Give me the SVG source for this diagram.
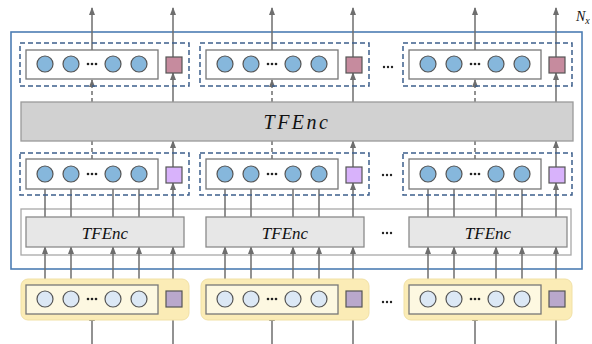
<svg xmlns="http://www.w3.org/2000/svg" width="592" height="344" viewBox="0 0 592 344">
<style>
.dash{fill:none;stroke:#3d5f8c;stroke-width:1.5;stroke-dasharray:5,3}
.inner{fill:#fff;stroke:#777;stroke-width:1.3}
.c1{fill:#86b7dc;stroke:#555;stroke-width:1.2}
.c2{fill:#dce8f5;stroke:#555;stroke-width:1.2}
.dot{fill:#222}
.sqp{fill:#c68b9e;stroke:#555;stroke-width:1.2}
.sqv{fill:#d8b2fb;stroke:#555;stroke-width:1.2}
.sqm{fill:#b9a8cc;stroke:#555;stroke-width:1.2}
.arr{stroke:#6e6e6e;stroke-width:1.5;fill:none;marker-end:url(#ah)}
.arrd{stroke:#6e6e6e;stroke-width:1.5;fill:none;stroke-dasharray:4,3;marker-end:url(#ah)}
.lnd{stroke:#6e6e6e;stroke-width:1.5;fill:none;stroke-dasharray:4,3}
.enc{font-family:"Liberation Serif",serif;font-style:italic;fill:#111;text-anchor:middle}
</style>
<defs>
<marker id="ah" markerUnits="userSpaceOnUse" markerWidth="8" markerHeight="6" refX="7" refY="3" orient="auto">
<path d="M0,0 L8,3 L0,6 z" fill="#6e6e6e"/>
</marker>
<g id="circles1">
<circle class="c1" cx="45" cy="0" r="8"/><circle class="c1" cx="71" cy="0" r="8"/>
<circle class="c1" cx="113" cy="0" r="8"/><circle class="c1" cx="139" cy="0" r="8"/>
<circle class="dot" cx="88" cy="0" r="1.3"/><circle class="dot" cx="92" cy="0" r="1.3"/><circle class="dot" cx="96" cy="0" r="1.3"/>
</g>
<g id="circles2">
<circle class="c2" cx="45" cy="0" r="8"/><circle class="c2" cx="71" cy="0" r="8"/>
<circle class="c2" cx="113" cy="0" r="8"/><circle class="c2" cx="139" cy="0" r="8"/>
<circle class="dot" cx="88" cy="0" r="1.3"/><circle class="dot" cx="92" cy="0" r="1.3"/><circle class="dot" cx="96" cy="0" r="1.3"/>
</g>
<g id="colarrows">
<line class="arr" x1="92" y1="50" x2="92" y2="8"/>
<line class="arr" x1="173" y1="57" x2="173" y2="8"/>
<line class="arrd" x1="92" y1="102" x2="92" y2="80"/>
<line class="arr" x1="173" y1="102" x2="173" y2="73"/>
<line class="lnd" x1="92" y1="159" x2="92" y2="141"/>
<line class="arr" x1="173" y1="167" x2="173" y2="141"/>
<line class="arr" x1="45" y1="217" x2="45" y2="182"/>
<line class="arr" x1="71" y1="217" x2="71" y2="182"/>
<line class="arr" x1="113" y1="217" x2="113" y2="182"/>
<line class="arr" x1="139" y1="217" x2="139" y2="182"/>
<line class="arr" x1="173" y1="217" x2="173" y2="183"/>
<line class="arr" x1="45" y1="291" x2="45" y2="247"/>
<line class="arr" x1="71" y1="291" x2="71" y2="247"/>
<line class="arr" x1="113" y1="291" x2="113" y2="247"/>
<line class="arr" x1="139" y1="291" x2="139" y2="247"/>
<line class="arr" x1="173" y1="291" x2="173" y2="247"/>
<line class="arr" x1="92" y1="344" x2="92" y2="314"/>
<line class="arr" x1="173" y1="344" x2="173" y2="307"/>
</g>
</defs>
<rect width="592" height="344" fill="#fff"/>

<g id="stack-box">
<rect x="11" y="32" width="571" height="237" fill="none" stroke="#4d7db3" stroke-width="1.6"/>
<text x="576" y="21" font-family="Liberation Serif,serif" font-style="italic" font-size="14" fill="#111">N<tspan font-size="10" dy="3">x</tspan></text>
</g>

<g id="enc-container">
<rect x="21" y="209" width="550" height="46" fill="#fff" stroke="#a8a8a8" stroke-width="1.3"/>
</g>

<g id="connectors">
<use href="#colarrows"/>
<use href="#colarrows" x="180"/>
<use href="#colarrows" x="383"/>
</g>

<g id="big-enc">
<rect x="21" y="102" width="552" height="39" fill="#d1d1d1" stroke="#9a9a9a" stroke-width="1.3"/>
<text class="enc" x="297" y="129" font-size="20" letter-spacing="2.5">TFEnc</text>
</g>

<g id="top-1">
<rect class="dash" x="20" y="43" width="169" height="43"/>
<rect class="inner" x="26" y="50" width="132" height="29"/>
<use href="#circles1" y="64"/>
<rect class="sqp" x="166" y="57" width="16" height="16"/>
</g>
<g id="top-2" transform="translate(180,0)">
<rect class="dash" x="20" y="43" width="169" height="43"/>
<rect class="inner" x="26" y="50" width="132" height="29"/>
<use href="#circles1" y="64"/>
<rect class="sqp" x="166" y="57" width="16" height="16"/>
</g>
<g id="top-3" transform="translate(383,0)">
<rect class="dash" x="20" y="43" width="169" height="43"/>
<rect class="inner" x="26" y="50" width="132" height="29"/>
<use href="#circles1" y="64"/>
<rect class="sqp" x="166" y="57" width="16" height="16"/>
</g>

<g id="mid-1">
<rect class="dash" x="20" y="153" width="169" height="42"/>
<rect class="inner" x="26" y="159" width="132" height="30"/>
<use href="#circles1" y="174"/>
<rect class="sqv" x="166" y="167" width="16" height="16"/>
</g>
<g id="mid-2" transform="translate(180,0)">
<rect class="dash" x="20" y="153" width="169" height="42"/>
<rect class="inner" x="26" y="159" width="132" height="30"/>
<use href="#circles1" y="174"/>
<rect class="sqv" x="166" y="167" width="16" height="16"/>
</g>
<g id="mid-3" transform="translate(383,0)">
<rect class="dash" x="20" y="153" width="169" height="42"/>
<rect class="inner" x="26" y="159" width="132" height="30"/>
<use href="#circles1" y="174"/>
<rect class="sqv" x="166" y="167" width="16" height="16"/>
</g>

<g id="enc-1">
<rect x="26" y="217" width="158" height="30" fill="#e7e7e7" stroke="#8a8a8a" stroke-width="1.3"/>
<text class="enc" x="105" y="239" font-size="17">TFEnc</text>
</g>
<g id="enc-2">
<rect x="206" y="217" width="158" height="30" fill="#e7e7e7" stroke="#8a8a8a" stroke-width="1.3"/>
<text class="enc" x="285" y="239" font-size="17">TFEnc</text>
</g>
<g id="enc-3">
<rect x="409" y="217" width="158" height="30" fill="#e7e7e7" stroke="#8a8a8a" stroke-width="1.3"/>
<text class="enc" x="488" y="239" font-size="17">TFEnc</text>
</g>

<g id="in-1">
<rect x="21" y="279" width="168" height="41" rx="7" fill="#fbecb6" stroke="#f1e1a6" stroke-width="1"/>
<rect x="26" y="285" width="132" height="29" fill="#fdf8e1" stroke="#777" stroke-width="1.3"/>
<use href="#circles2" y="299"/>
<rect class="sqm" x="166" y="291" width="16" height="16"/>
</g>
<g id="in-2" transform="translate(180,0)">
<rect x="21" y="279" width="168" height="41" rx="7" fill="#fbecb6" stroke="#f1e1a6" stroke-width="1"/>
<rect x="26" y="285" width="132" height="29" fill="#fdf8e1" stroke="#777" stroke-width="1.3"/>
<use href="#circles2" y="299"/>
<rect class="sqm" x="166" y="291" width="16" height="16"/>
</g>
<g id="in-3" transform="translate(383,0)">
<rect x="21" y="279" width="168" height="41" rx="7" fill="#fbecb6" stroke="#f1e1a6" stroke-width="1"/>
<rect x="26" y="285" width="132" height="29" fill="#fdf8e1" stroke="#777" stroke-width="1.3"/>
<use href="#circles2" y="299"/>
<rect class="sqm" x="166" y="291" width="16" height="16"/>
</g>

<g id="ellipses">
<circle class="dot" cx="384" cy="67" r="1.2"/><circle class="dot" cx="388" cy="67" r="1.2"/><circle class="dot" cx="392" cy="67" r="1.2"/>
<circle class="dot" cx="383" cy="175" r="1.2"/><circle class="dot" cx="387" cy="175" r="1.2"/><circle class="dot" cx="391" cy="175" r="1.2"/>
<circle class="dot" cx="383" cy="233" r="1.2"/><circle class="dot" cx="387" cy="233" r="1.2"/><circle class="dot" cx="391" cy="233" r="1.2"/>
<circle class="dot" cx="383" cy="302" r="1.2"/><circle class="dot" cx="387" cy="302" r="1.2"/><circle class="dot" cx="391" cy="302" r="1.2"/>
</g>
</svg>
